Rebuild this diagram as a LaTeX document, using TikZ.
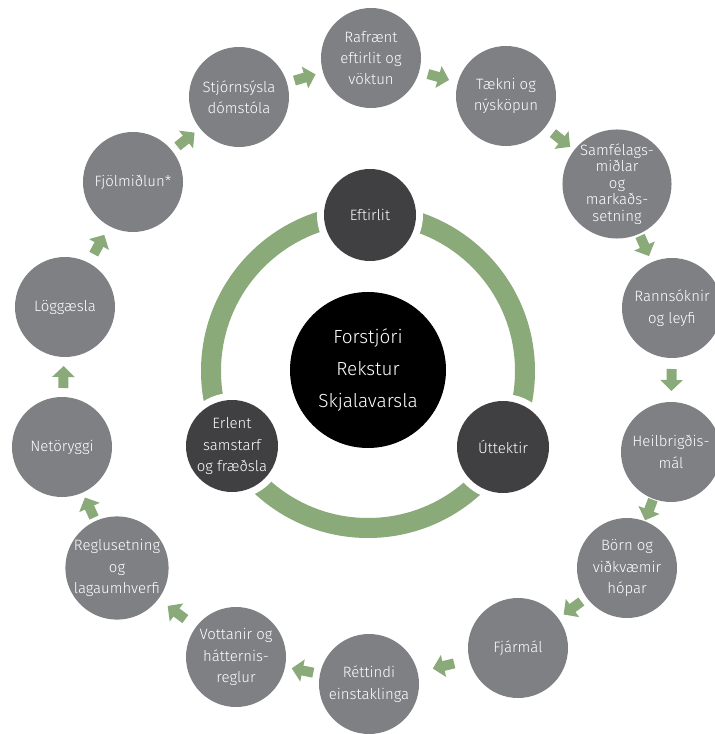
\documentclass[tikz,border=0pt]{standalone}
\usepackage{fontspec}
\setmainfont{Fira Sans Light}
\usetikzlibrary{arrows.meta, calc}
\definecolor{topicgray}{HTML}{7F8083}
\definecolor{unitgray}{HTML}{404042}
\definecolor{flowgreen}{HTML}{8AAA7A}
\tikzset{topic/.style = {circle, fill=topicgray, text=white, minimum size=100bp, inner sep=0pt, align=center, font=\fontsize{15}{21.5}\selectfont}}
\tikzset{unit/.style = {circle, fill=unitgray, text=white, minimum size=92bp, inner sep=0pt, align=center, font=\fontsize{15}{21.5}\selectfont, preaction={draw=white, line width=14bp}}}
\tikzset{flow/.style = {draw=flowgreen, line width=10bp, -{Triangle[length=11bp,width=22bp]}}}
\newcommand{\flowarrow}[2]{\draw[flow] ($(#1)!0.5!(#2)!11bp!(#1)$) -- ($(#1)!0.5!(#2)!11bp!(#2)$);}

\begin{document}
\begin{tikzpicture}[x=1bp, y=1bp]
\useasboundingbox (-371,-363) rectangle (344,371);
\node[topic] (rafraent) at (0,313) {Rafrænt\\eftirlit og\\vöktun};
\node[topic] (taekni) at (135,275) {Tækni og\\nýsköpun};
\node[topic, font=\fontsize{15}{16.5}\selectfont] (samfelag) at (246,187) {Samfélags-\\miðlar\\og\\markaðs-\\setning};
\node[topic] (rannsokn) at (301,63) {Rannsóknir\\og leyfi};
\node[topic] (heilbr) at (300,-81) {Heilbrigðis-\\mál};
\node[topic] (born) at (256,-197) {Börn og\\viðkvæmir\\hópar};
\node[topic] (fjarmal) at (147,-277) {Fjármál};
\node[topic] (rettindi) at (-2,-313) {Réttindi\\einstaklinga};
\node[topic] (vottanir) at (-135,-286) {Vottanir og\\hátternis-\\reglur};
\node[topic] (reglur) at (-254,-197) {Reglusetning\\og\\lagaumhverfi};
\node[topic] (netoryggi) at (-309,-76) {Netöryggi};
\node[topic] (loggaesla) at (-306,64) {Löggæsla};
\node[topic] (fjolmidlun) at (-238,189) {Fjölmiðlun*};
\node[topic] (stjornsysla) at (-132,274) {Stjórnsýsla\\dómstóla};
\flowarrow{stjornsysla}{rafraent}
\flowarrow{rafraent}{taekni}
\flowarrow{taekni}{samfelag}
\flowarrow{samfelag}{rannsokn}
\flowarrow{rannsokn}{heilbr}
\flowarrow{heilbr}{born}
\flowarrow{born}{fjarmal}
\flowarrow{fjarmal}{rettindi}
\flowarrow{rettindi}{vottanir}
\flowarrow{vottanir}{reglur}
\flowarrow{reglur}{netoryggi}
\flowarrow{netoryggi}{loggaesla}
\flowarrow{loggaesla}{fjolmidlun}
\flowarrow{fjolmidlun}{stjornsysla}
\draw[flowgreen, line width=20bp] (-3,0) circle (157);
\node[circle, fill=black, text=white, minimum size=156bp, align=center, font=\fontsize{19}{32}\selectfont] (forstjori) at (-3,1) {Forstjóri\\Rekstur\\Skjalavarsla};
\node[unit] (eftirlit) at (-1,156) {Eftirlit};
\node[unit] (uttektir) at (132,-76) {Úttektir};
\node[unit] (erlent) at (-139,-75) {Erlent\\samstarf\\og fræðsla};
\end{tikzpicture}
\end{document}
